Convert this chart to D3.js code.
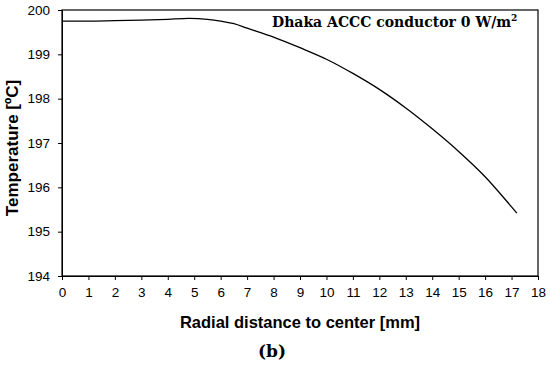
<!DOCTYPE html>
<html>
<head>
<meta charset="utf-8">
<script src="https://cdn.jsdelivr.net/npm/d3@7"></script>
<style>
  body { margin: 0; background: #fff; }
  .axis path, .axis line { stroke: #000; }
</style>
</head>
<body>
<svg width="550" height="365"></svg>
<script>
// radial distance (mm) vs temperature (ºC)
var radius = [0, 1, 2, 3, 4, 4.8, 5.5, 6, 6.5, 7, 8, 9, 10, 11, 12, 13, 14, 15, 16, 17, 17.2];
var temp   = [199.75, 199.75, 199.76, 199.77, 199.79, 199.81, 199.79, 199.75, 199.69, 199.59,
              199.39, 199.15, 198.89, 198.57, 198.21, 197.79, 197.32, 196.81, 196.24, 195.56, 195.42];
var xTicks = d3.range(0, 19, 1);
var yTicks = [194, 195, 196, 197, 198, 199, 200];

var svg = d3.select("svg"),
    margin = {top: 10, right: 12, bottom: 89, left: 62},
    width = 550 - margin.left - margin.right,
    height = 365 - margin.top - margin.bottom;

var x = d3.scaleLinear().domain([0, 18]).range([0, width]),
    y = d3.scaleLinear().domain([194, 200]).range([height, 0]);

var g = svg.append("g")
    .attr("transform", "translate(" + margin.left + "," + margin.top + ")");

g.append("g")
    .attr("class", "axis axis--x")
    .attr("transform", "translate(0," + height + ")")
    .call(d3.axisBottom(x).tickValues(xTicks).tickFormat(d3.format("d"))
      .tickSize(4).tickPadding(7).tickSizeOuter(0))
    .selectAll("text").attr("dy", "0.71em");

g.append("g")
    .attr("class", "axis axis--y")
    .call(d3.axisLeft(y).tickValues(yTicks).tickFormat(d3.format("d"))
      .tickSize(4).tickPadding(8).tickSizeOuter(0));

g.selectAll(".axis text")
    .attr("font-family", null).attr("font-size", null)
    .style("font-family", "'Liberation Sans', Arial, sans-serif")
    .style("font-size", "13.5px")
    .style("fill", "#000");

// frame
g.append("rect")
    .attr("width", width).attr("height", height)
    .style("fill", "none").style("stroke", "#000").style("stroke-width", 1.2);

var line = d3.line()
    .x(function(d, i) { return x(radius[i]); })
    .y(function(d) { return y(d); })
    .curve(d3.curveMonotoneX);

g.append("path")
    .datum(temp)
    .attr("d", line)
    .style("fill", "none")
    .style("stroke", "#000")
    .style("stroke-width", 1.3);

// label inside plot
var lab = g.append("text")
    .attr("x", 210).attr("y", 17)
    .style("font-family", "'DejaVu Serif', serif")
    .style("font-weight", "bold")
    .style("font-size", "14px");
lab.append("tspan").text("Dhaka ACCC conductor 0 W/m");
lab.append("tspan").attr("dy", -6).style("font-size", "9px").text("2");

svg.append("text")
    .attr("x", margin.left + width / 2).attr("y", 328)
    .attr("text-anchor", "middle")
    .style("font-family", "'Liberation Sans', Arial, sans-serif")
    .style("font-weight", "bold")
    .style("font-size", "16.5px")
    .text("Radial distance to center [mm]");

svg.append("text")
    .attr("transform", "translate(18," + (margin.top + height / 2 + 5) + ") rotate(-90)")
    .attr("text-anchor", "middle")
    .style("font-family", "'Liberation Sans', Arial, sans-serif")
    .style("font-weight", "bold")
    .style("font-size", "17px")
    .text("Temperature [ºC]");

svg.append("text")
    .attr("x", 272).attr("y", 357)
    .attr("text-anchor", "middle")
    .style("font-family", "'DejaVu Serif', serif")
    .style("font-weight", "bold")
    .style("font-size", "17px")
    .text("(b)");
</script>
</body>
</html>
